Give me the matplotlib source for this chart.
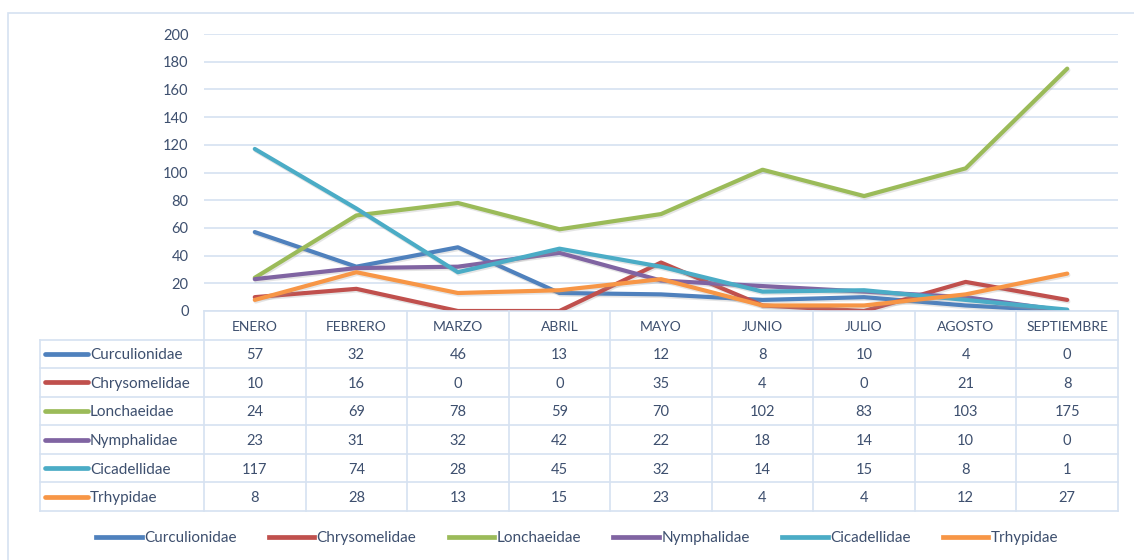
import matplotlib
matplotlib.use("Agg")
import matplotlib.pyplot as plt
from matplotlib.lines import Line2D
from matplotlib.patches import Rectangle

plt.rcParams['font.family'] = ['Lato', 'DejaVu Sans']

months = ["ENERO", "FEBRERO", "MARZO", "ABRIL", "MAYO", "JUNIO", "JULIO", "AGOSTO", "SEPTIEMBRE"]
families = ["Curculionidae", "Chrysomelidae", "Lonchaeidae", "Nymphalidae", "Cicadellidae", "Trhypidae"]
curculionidae = [57, 32, 46, 13, 12, 8, 10, 4, 0]
chrysomelidae = [10, 16, 0, 0, 35, 4, 0, 21, 8]
lonchaeidae = [24, 69, 78, 59, 70, 102, 83, 103, 175]
nymphalidae = [23, 31, 32, 42, 22, 18, 14, 10, 0]
cicadellidae = [117, 74, 28, 45, 32, 14, 15, 8, 1]
trhypidae = [8, 28, 13, 15, 23, 4, 4, 12, 27]
series = [curculionidae, chrysomelidae, lonchaeidae, nymphalidae, cicadellidae, trhypidae]
colors = ["#4F81BD", "#C0504D", "#9BBB59", "#8064A2", "#4BACC6", "#F79646"]
yticks = [0, 20, 40, 60, 80, 100, 120, 140, 160, 180, 200]

W, H = 1134, 560
TXT = "#3D4F6E"
GRID = "#D6E2F1"
fig = plt.figure(figsize=(W / 100, H / 100), dpi=100)

def fx(px):
    return px / W

def fy(py):
    return 1 - py / H

# outer chart border
fig.patches.append(Rectangle((fx(8), fy(562)), fx(1140) - fx(8), fy(13) - fy(562),
                             transform=fig.transFigure, fill=False, edgecolor=GRID, lw=1.2))

x0, x1 = 204, 1118
ax = fig.add_axes([fx(x0), fy(311), fx(x1) - fx(x0), fy(34) - fy(311)])
ax.set_xlim(-0.5, len(months) - 0.5)
ax.set_ylim(0, 200)
for s in ax.spines.values():
    s.set_visible(False)
ax.set_yticks(yticks)
ax.set_yticklabels([str(v) for v in yticks], color=TXT, fontsize=10.5)
ax.tick_params(axis='y', length=0, pad=11)
ax.set_xticks([])
ax.grid(axis='y', color=GRID, lw=1.2)
ax.set_axisbelow(True)
xs = list(range(len(months)))
shadow = ax.transData + matplotlib.transforms.ScaledTranslation(1/100, -1.5/100, fig.dpi_scale_trans)
for name, vals, c in zip(families, series, colors):
    ax.plot(xs, vals, color="#999999", lw=3.2, alpha=0.25, solid_capstyle='round', transform=shadow)
    ax.plot(xs, vals, color=c, lw=3.0, solid_capstyle='round', label=name)

# data table
colw = (x1 - x0) / len(months)
tx0 = 40
tax = fig.add_axes([fx(tx0), fy(511), fx(x1) - fx(tx0), fy(311) - fy(511)])
tax.set_xlim(-0.5 - (x0 - tx0) / colw, len(months) - 0.5)
tax.set_ylim(7, 0)
tax.axis('off')
lw = 1.2
xl = -0.5 - (x0 - tx0) / colw
tax.plot([-0.5, len(months) - 0.5], [0, 0], color=GRID, lw=lw, clip_on=False)
for r in range(1, 8):
    tax.plot([xl, len(months) - 0.5], [r, r], color=GRID, lw=lw, clip_on=False)
tax.plot([xl, xl], [1, 7], color=GRID, lw=lw, clip_on=False)
for c in range(len(months) + 1):
    tax.plot([c - 0.5, c - 0.5], [0, 7], color=GRID, lw=lw, clip_on=False)
for i, m in enumerate(months):
    tax.text(i, 0.55, m, ha='center', va='center', color=TXT, fontsize=10)
keyw = 43 / colw
for r, (name, vals, c) in enumerate(zip(families, series, colors)):
    y = r + 1.5
    kx = xl + 5 / colw
    tax.plot([kx, kx + keyw], [y, y], color=c, lw=3.4, solid_capstyle='round')
    tax.text(kx + keyw + 2 / colw, y + 0.05, name, ha='left', va='center', color=TXT, fontsize=11)
    for i, v in enumerate(vals):
        tax.text(i, y + 0.05, str(v), ha='center', va='center', color=TXT, fontsize=10.5)

# legend
handles = [Line2D([0], [0], color=c, lw=3.4) for c in colors]
fig.legend(handles, families, loc='center', bbox_to_anchor=(fx(577), fy(538)), ncol=6,
           frameon=False, handlelength=3.0, handletextpad=0.15, columnspacing=2.1,
           labelcolor=TXT, fontsize=11)

fig.savefig("out.png", dpi=100)
